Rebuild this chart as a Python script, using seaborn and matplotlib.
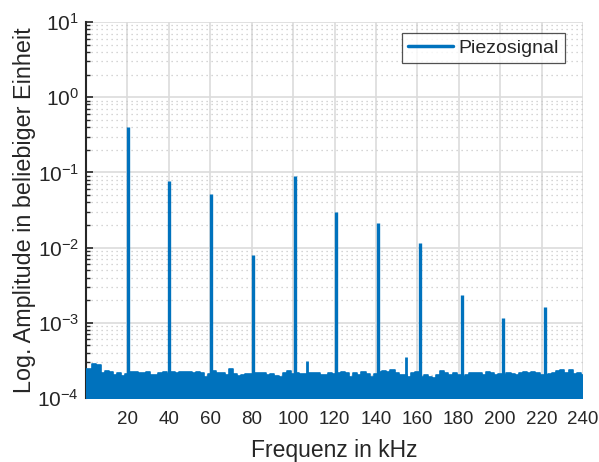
import numpy as np
import pandas as pd
import matplotlib
matplotlib.use("Agg")
import matplotlib.pyplot as plt
import seaborn as sns
from matplotlib.ticker import LogLocator, FixedLocator

# noise floor of the spectrum, sampled every 2 kHz (values in 1e-4)
noise_freq = np.arange(0, 242, 2)
noise_amp = np.array([
    2.45, 2.45, 2.80, 2.75, 2.13, 2.30, 2.20, 2.02, 2.18, 1.96,
    2.10, 2.25, 2.20, 2.13, 2.13, 2.25, 2.02, 2.02, 2.13, 2.25,
    2.10, 2.25, 2.13, 2.25, 2.25, 2.20, 2.13, 2.25, 2.13, 1.92,
    2.10, 2.30, 2.13, 2.13, 2.02, 2.40, 2.07, 1.96, 2.02, 2.09,
    2.10, 2.13, 2.18, 2.13, 2.02, 2.09, 1.96, 1.92, 2.13, 2.30,
    2.10, 2.13, 2.07, 2.10, 2.13, 2.13, 2.18, 2.02, 2.02, 2.13,
    2.10, 2.18, 2.20, 2.13, 1.92, 2.13, 2.02, 2.20, 2.07, 1.92,
    2.10, 2.25, 2.30, 2.25, 2.35, 2.13, 2.02, 2.00, 1.92, 2.13,
    2.25, 1.92, 2.02, 1.88, 1.83, 2.02, 2.30, 2.13, 2.02, 2.13,
    2.02, 1.92, 2.02, 2.13, 2.18, 2.13, 2.02, 2.20, 2.13, 2.02,
    2.07, 2.02, 2.13, 2.07, 2.02, 2.13, 2.20, 2.13, 2.25, 2.13,
    2.02, 2.02, 2.09, 2.13, 2.30, 2.35, 2.13, 2.35, 2.07, 2.18,
    2.02,
]) * 1e-4

# harmonics of the piezo signal
peak_freq = [20.15, 40.3, 60.45, 80.6, 100.75, 120.9, 141.05, 161.2, 181.35, 201.5, 221.65]
peak_amp = [0.40, 0.077, 0.052, 0.008, 0.09, 0.030, 0.021, 0.0115, 0.00234, 0.00116, 0.00162]

# small spurs
spur_freq = [106.7, 154.6]
spur_amp = [3.1e-4, 3.5e-4]

xticks = [20, 40, 60, 80, 100, 120, 140, 160, 180, 200, 220, 240]

blue = "#0072BD"

sns.set_style("white")
plt.rcParams["font.family"] = ["Liberation Sans", "DejaVu Sans"]
plt.rcParams["mathtext.fontset"] = "custom"
plt.rcParams["mathtext.rm"] = "Liberation Sans"
plt.rcParams["mathtext.it"] = "Liberation Sans:italic"

fig = plt.figure(figsize=(5.99, 4.62), dpi=100)
ax = fig.add_axes([0.1436, 0.1385, 0.8297, 0.8139])

df = pd.DataFrame({"f": noise_freq, "a": noise_amp})
sns.lineplot(data=df, x="f", y="a", ax=ax, color=blue, linewidth=1.2,
             drawstyle="steps-mid", label="Piezosignal", zorder=3)
ax.fill_between(noise_freq, 1e-5, noise_amp, step="mid", color=blue,
                linewidth=0, zorder=3)
ax.vlines(peak_freq, 1e-5, peak_amp, color=blue, linewidth=2.4, zorder=3)
ax.vlines(spur_freq, 1e-5, spur_amp, color=blue, linewidth=2.0, zorder=3)

ax.set_yscale("log")
ax.set_ylim(1e-4, 10)
ax.set_xlim(0, 240)
ax.xaxis.set_major_locator(FixedLocator(xticks))
ax.yaxis.set_major_locator(LogLocator(base=10, numticks=10))
ax.yaxis.set_minor_locator(LogLocator(base=10, subs=np.arange(2, 10), numticks=20))

ax.grid(True, which="major", color="#dcdcdc", linewidth=1.2, linestyle="-", zorder=0)
ax.grid(True, which="minor", axis="y", color="#c8c8c8", linewidth=0.9,
        linestyle=(0, (1, 3)), zorder=0)
ax.set_axisbelow(True)

for s in ["top", "right", "bottom"]:
    ax.spines[s].set_visible(False)
ax.spines["left"].set_color("#262626")
ax.spines["left"].set_linewidth(1.5)

ax.tick_params(axis="y", which="major", direction="in", length=5, width=1.2,
               color="#262626", labelsize=15, labelcolor="#262626", left=True, pad=5)
ax.tick_params(axis="y", which="minor", direction="in", length=3, width=1.0,
               color="#262626", left=True)
ax.tick_params(axis="x", which="both", length=0, labelsize=13.5,
               labelcolor="#262626", pad=9)

ax.set_xlabel("Frequenz in kHz", fontsize=16.5, color="#262626", labelpad=8)
ax.set_ylabel("Log. Amplitude in beliebiger Einheit", fontsize=16.8,
              color="#262626")
ax.yaxis.set_label_coords(-0.1, 0.5)

leg = ax.legend(loc="upper right", bbox_to_anchor=(0.975, 0.985), fontsize=14,
                frameon=True, fancybox=False, edgecolor="#262626",
                handlelength=2.3, handletextpad=0.3, borderpad=0.3,
                borderaxespad=0.3)
leg.get_frame().set_linewidth(0.9)
for line in leg.get_lines():
    line.set_linewidth(2.5)

fig.savefig("out.png", dpi=100)
